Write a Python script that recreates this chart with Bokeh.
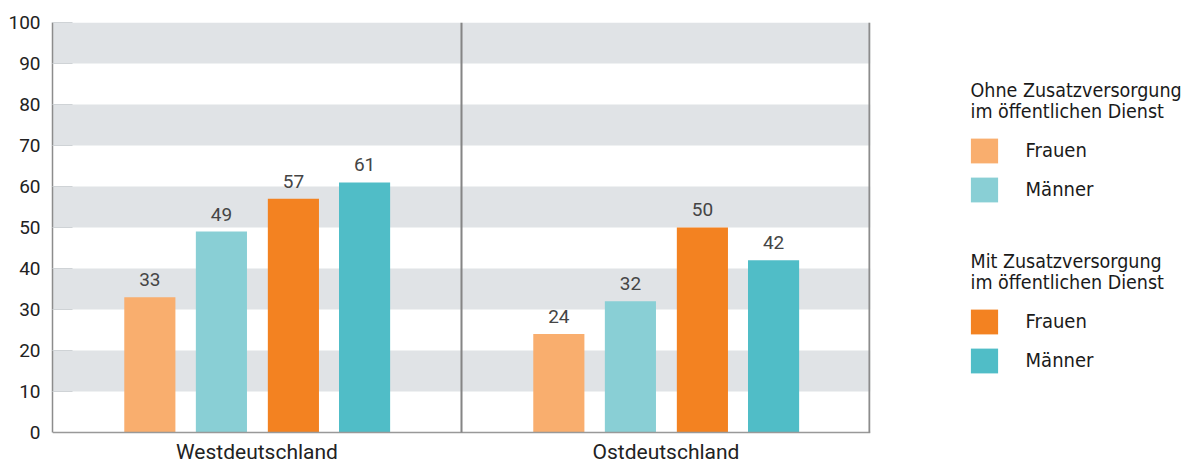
from bokeh.plotting import figure
from bokeh.layouts import row
from bokeh.models import (FactorRange, Range1d, FixedTicker, Span, BoxAnnotation, Legend,
                          LegendItem, Label, LabelSet, ColumnDataSource)
from bokeh.core.properties import value
from bokeh.transform import dodge
from bokeh.embed import file_html
from bokeh.resources import INLINE

# ---- data ----
regions = ["Westdeutschland", "Ostdeutschland"]
ohne_frauen = [33, 24]
ohne_maenner = [49, 32]
mit_frauen = [57, 50]
mit_maenner = [61, 42]
y_ticks = [0, 10, 20, 30, 40, 50, 60, 70, 80, 90, 100]
group_titles = [("Ohne Zusatzversorgung", "im öffentlichen Dienst"),
                ("Mit Zusatzversorgung", "im öffentlichen Dienst")]
item_labels = ["Frauen", "Männer"]

series = [
    ("ohne_frauen", ohne_frauen, "#F9AE6E", -0.262),
    ("ohne_maenner", ohne_maenner, "#89CFD5", -0.087),
    ("mit_frauen", mit_frauen, "#F38221", 0.089),
    ("mit_maenner", mit_maenner, "#50BDC7", 0.263),
]

src = ColumnDataSource(dict(
    region=regions,
    ohne_frauen=ohne_frauen, ohne_maenner=ohne_maenner,
    mit_frauen=mit_frauen, mit_maenner=mit_maenner,
    ohne_frauen_t=[str(v) for v in ohne_frauen],
    ohne_maenner_t=[str(v) for v in ohne_maenner],
    mit_frauen_t=[str(v) for v in mit_frauen],
    mit_maenner_t=[str(v) for v in mit_maenner],
))

NUM_FONT = "Roboto"
COND_FONT = "Liberation Sans Narrow, DejaVu Sans Condensed, sans-serif"

# frame: 22px from top down to bottom of canvas; 0 sits 33px above the bottom
p = figure(x_range=FactorRange(factors=regions, range_padding=0),
           y_range=Range1d(-8.05, 100), width=900, height=465,
           output_backend="svg", toolbar_location=None,
           min_border_left=52, min_border_right=30,
           min_border_top=22, min_border_bottom=0)
p.outline_line_color = None
p.background_fill_color = "white"
p.xaxis.visible = False

for name, vals, color, off in series:
    p.vbar(x=dodge("region", off, range=p.x_range), top=name, width=0.125,
           source=src, fill_color=color, line_color=None)
    ls = LabelSet(x=dodge("region", off, range=p.x_range), y=name, text=name + "_t",
                  source=src, text_align="center", text_baseline="alphabetic",
                  y_offset=11, text_font=value(NUM_FONT), text_font_size="19px",
                  text_color="#454545")
    p.add_layout(ls)

# category labels under the baseline
p.add_layout(LabelSet(x="region", y=0, text="region", source=src, text_align="center",
                      text_baseline="alphabetic", y_offset=-27,
                      text_font=value(NUM_FONT), text_font_size="21px",
                      text_color="#222222"))

ticker = FixedTicker(ticks=y_ticks)
p.yaxis.ticker = ticker
p.yaxis.bounds = (0, 100)
# grid prepends the range start, so give it the ticks above 0 to get bands 10-20, 30-40, ...
p.ygrid.ticker = FixedTicker(ticks=y_ticks[1:])
p.ygrid.grid_line_color = None
p.ygrid.band_fill_color = "#E0E3E6"
p.ygrid.band_fill_alpha = 1.0
p.xgrid.grid_line_color = None

p.yaxis.axis_line_color = "#8c8c8c"
p.yaxis.axis_line_width = 1.5
p.yaxis.major_tick_in = 20
p.yaxis.major_tick_out = 0
p.yaxis.major_tick_line_color = "#cfd3d6"
p.yaxis.minor_tick_line_color = None
p.yaxis.major_label_standoff = 12
p.yaxis.major_label_text_font = NUM_FONT
p.yaxis.major_label_text_font_size = "19px"
p.yaxis.major_label_text_color = "#222222"

# baseline and panel separators
p.add_layout(Span(location=0, dimension="width", line_color="#999999", line_width=1.5))
p.add_layout(BoxAnnotation(left=1 - 0.0025, right=1 + 0.0025, bottom=0, top=100,
                           fill_color="#858585", fill_alpha=1, line_color=None))
p.add_layout(BoxAnnotation(left=2 - 0.005, right=2, bottom=0, top=100,
                           fill_color="#8c8c8c", fill_alpha=1, line_color=None))

# ---- legend panel ----
lg = figure(width=289, height=465, x_range=(0, 1), y_range=(0, 1),
            output_backend="svg", toolbar_location=None,
            x_axis_location=None, y_axis_location=None,
            min_border=0, min_border_left=0, min_border_right=0,
            min_border_top=22, min_border_bottom=0)
lg.outline_line_color = None
lg.xgrid.visible = False
lg.ygrid.visible = False

dummies = []
for name, vals, color, off in series:
    dummies.append(lg.vbar(x=[0.5], top=[0.5], width=0.1, fill_color=color,
                           line_color=None, visible=False))

leg_common = dict(glyph_width=34, glyph_height=31, label_height=25, label_standoff=25,
                  spacing=8, padding=0, margin=0, border_line_color=None,
                  background_fill_alpha=0, label_text_font=COND_FONT,
                  label_text_font_size="20px", label_text_color="#1a1a1a")
leg1 = Legend(items=[LegendItem(label=item_labels[0], renderers=[dummies[0]]),
                     LegendItem(label=item_labels[1], renderers=[dummies[1]])],
              location=(66.6, 260.2), **leg_common)
leg2 = Legend(items=[LegendItem(label=item_labels[0], renderers=[dummies[2]]),
                     LegendItem(label=item_labels[1], renderers=[dummies[3]])],
              location=(66.6, 89.2), **leg_common)
lg.add_layout(leg1)
lg.add_layout(leg2)

title_y = [(374.7, 353.7), (203.7, 183.0)]
for (l1, l2), (y1, y2) in zip(group_titles, title_y):
    for t, yy in ((l1, y1), (l2, y2)):
        lg.add_layout(Label(x=70, y=yy, x_units="screen", y_units="screen", text=t,
                            text_font=COND_FONT, text_font_size="19.5px",
                            text_baseline="alphabetic", text_color="#1a1a1a"))

layout = row(p, lg, spacing=0)
open("out.html", "w").write(file_html(layout, INLINE))
